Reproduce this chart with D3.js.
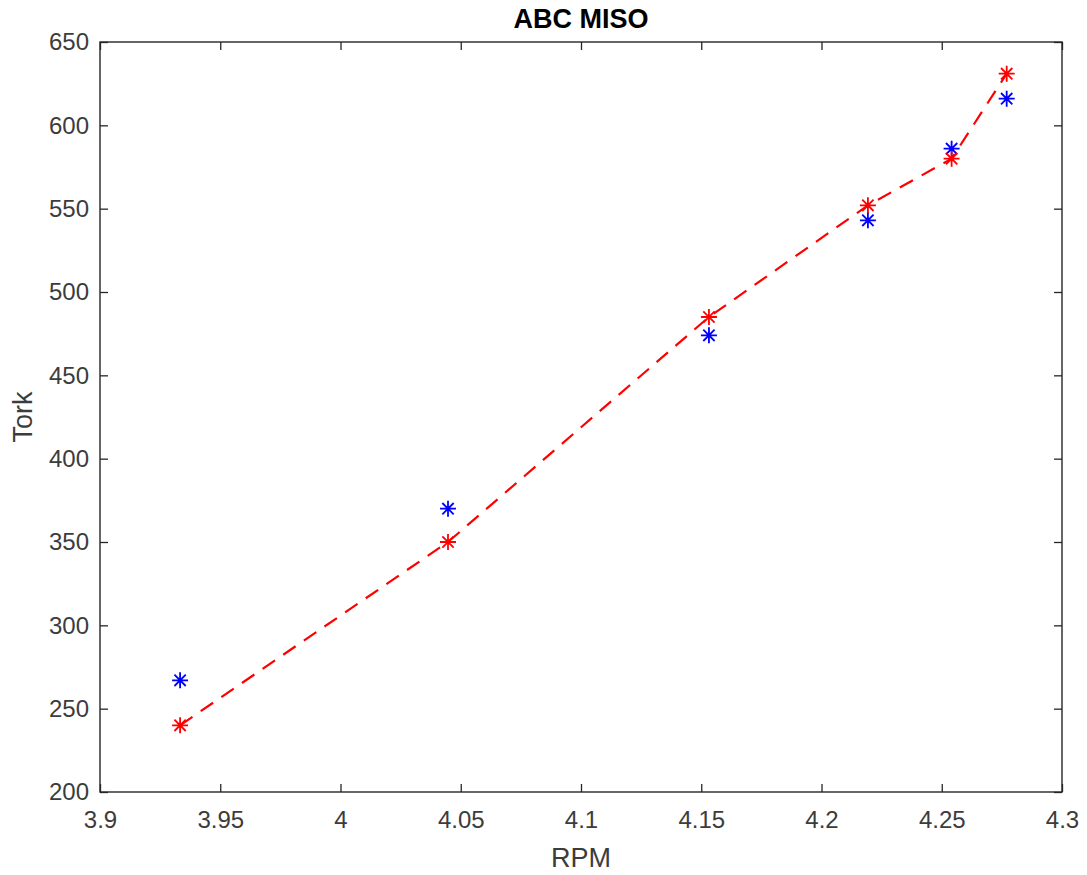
<!DOCTYPE html>
<html>
<head>
<meta charset="utf-8">
<script src="https://cdn.jsdelivr.net/npm/d3@7"></script>
<style>
  body { margin: 0; background: #fff; }
  text { font-family: "Liberation Sans", Arial, sans-serif; fill: #262626; }
</style>
</head>
<body>
<div class="chart"></div>
<script>
// data
var rpm = [3.9333, 4.0447, 4.1532, 4.2193, 4.2541, 4.2770];
var torkMeasured = [267, 370, 474, 543, 586, 616];
var torkFitted = [240, 350, 485, 552, 580, 631];
var xTicks = [3.9, 3.95, 4, 4.05, 4.1, 4.15, 4.2, 4.25, 4.3];
var yTicks = [200, 250, 300, 350, 400, 450, 500, 550, 600, 650];

var svgWidth = 1087;
var svgHeight = 875;

var margin = { top: 42, right: 25, bottom: 83, left: 100 };
var width = svgWidth - margin.left - margin.right;
var height = svgHeight - margin.top - margin.bottom;

var svg = d3.select(".chart")
  .append("svg")
  .attr("width", svgWidth)
  .attr("height", svgHeight);

var chartGroup = svg.append("g")
  .attr("transform", `translate(${margin.left}, ${margin.top})`);

var xScale = d3.scaleLinear().domain([3.9, 4.3]).range([0, width]);
var yScale = d3.scaleLinear().domain([200, 650]).range([height, 0]);

var axisColor = "#262626";
var labelColor = "#3c3c3c";
var tickLen = 8;

// axes box with inward ticks, like matlab
function styleAxis(g) {
  g.select(".domain").remove();
  g.selectAll(".tick line").attr("stroke", axisColor).attr("stroke-width", 1.3);
}

chartGroup.append("g")
  .attr("transform", `translate(0, ${height})`)
  .call(d3.axisBottom(xScale).tickValues(xTicks).tickSize(-tickLen).tickPadding(19).tickFormat(d3.format("")))
  .call(styleAxis)
  .selectAll("text").style("font-size", "24px").style("fill", labelColor)
  .style("font-family", "'Liberation Sans', Arial, sans-serif");

chartGroup.append("g")
  .call(d3.axisTop(xScale).tickValues(xTicks).tickSize(-tickLen).tickFormat(""))
  .call(styleAxis);

chartGroup.append("g")
  .call(d3.axisLeft(yScale).tickValues(yTicks).tickSize(-tickLen).tickPadding(11))
  .call(styleAxis)
  .selectAll("text").style("font-size", "24px").style("fill", labelColor)
  .style("font-family", "'Liberation Sans', Arial, sans-serif");

chartGroup.append("g")
  .attr("transform", `translate(${width}, 0)`)
  .call(d3.axisRight(yScale).tickValues(yTicks).tickSize(-tickLen).tickFormat(""))
  .call(styleAxis);

chartGroup.append("rect")
  .attr("width", width)
  .attr("height", height)
  .attr("fill", "none")
  .attr("stroke", axisColor)
  .attr("stroke-width", 1.4);

// dashed fit line through red points
var line = d3.line()
  .x((d, i) => xScale(rpm[i]))
  .y(d => yScale(d));

chartGroup.append("path")
  .datum(torkFitted)
  .attr("d", line)
  .attr("fill", "none")
  .attr("stroke", "#ff0000")
  .attr("stroke-width", 2.2)
  .attr("stroke-dasharray", "15,10");

// asterisk markers
function asterisk(r) {
  var k = r * 0.7071;
  return `M${-r},0L${r},0M0,${-r}L0,${r}M${-k},${-k}L${k},${k}M${-k},${k}L${k},${-k}`;
}

function drawStars(values, color) {
  chartGroup.selectAll(null)
    .data(values)
    .enter()
    .append("path")
    .attr("transform", (d, i) => `translate(${xScale(rpm[i])}, ${yScale(d)})`)
    .attr("d", asterisk(8))
    .attr("fill", "none")
    .attr("stroke", color)
    .attr("stroke-width", 1.8);
}

drawStars(torkMeasured, "#0000ff");
drawStars(torkFitted, "#ff0000");

// title and labels
svg.append("text")
  .attr("x", margin.left + width / 2)
  .attr("y", 28)
  .attr("text-anchor", "middle")
  .style("font-size", "27px")
  .style("font-weight", "bold")
  .style("fill", "#000")
  .text("ABC MISO");

svg.append("text")
  .attr("x", margin.left + width / 2)
  .attr("y", 867)
  .attr("text-anchor", "middle")
  .style("font-size", "27px")
  .style("fill", labelColor)
  .text("RPM");

svg.append("text")
  .attr("transform", "rotate(-90)")
  .attr("x", -(margin.top + height / 2))
  .attr("y", 32)
  .attr("text-anchor", "middle")
  .style("font-size", "27px")
  .style("fill", labelColor)
  .text("Tork");
</script>
</body>
</html>
